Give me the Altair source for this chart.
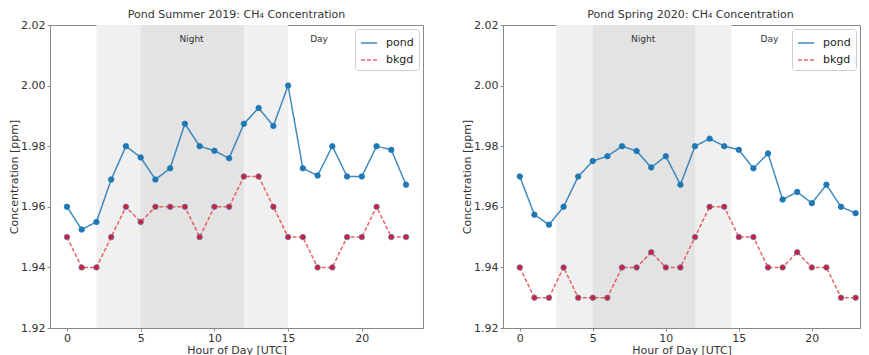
import altair as alt
import pandas as pd

hours = list(range(24))

summer_pond = [1.960, 1.9525, 1.955, 1.969, 1.980, 1.9763, 1.969, 1.9727, 1.9874, 1.980,
               1.9785, 1.976, 1.9874, 1.9926, 1.9867, 2.000, 1.9727, 1.9703, 1.980, 1.970,
               1.970, 1.980, 1.9788, 1.9673]
summer_bkgd = [1.95, 1.94, 1.94, 1.95, 1.96, 1.955, 1.96, 1.96, 1.96, 1.95, 1.96, 1.96,
               1.97, 1.97, 1.96, 1.95, 1.95, 1.94, 1.94, 1.95, 1.95, 1.96, 1.95, 1.95]

spring_pond = [1.970, 1.9574, 1.9541, 1.960, 1.970, 1.9751, 1.9767, 1.980, 1.9784, 1.973,
               1.9767, 1.9673, 1.980, 1.9825, 1.980, 1.9788, 1.9727, 1.9776, 1.9624, 1.9649,
               1.9612, 1.9673, 1.960, 1.9579]
spring_bkgd = [1.94, 1.93, 1.93, 1.94, 1.93, 1.93, 1.93, 1.94, 1.94, 1.945, 1.94, 1.94,
               1.95, 1.96, 1.96, 1.95, 1.95, 1.94, 1.94, 1.945, 1.94, 1.94, 1.93, 1.93]

series_names = ["pond", "bkgd"]
summer_light = [2, 15]
summer_dark = [5, 12]
spring_light = [2.5, 14.5]
spring_dark = [5, 12]

label_text = ["Night", "Day"]
label_hour = [8.45, 17.1]
label_level = [2.0155, 2.0155]

y_ticks = [1.92, 1.94, 1.96, 1.98, 2.00, 2.02]
x_ticks = [0, 5, 10, 15, 20]

FONT = "DejaVu Sans"
BLUE = "#1f77b4"
PLOT_H = 303


def panel(title, pond, bkgd, light, dark, width, xmax, title_dx):
    df = pd.DataFrame({
        "hour": hours * 2,
        "value": pond + bkgd,
        "series": ["pond"] * len(hours) + ["bkgd"] * len(hours),
    })
    light_df = pd.DataFrame({"start": [light[0]], "end": [light[1]]})
    dark_df = pd.DataFrame({"start": [dark[0]], "end": [dark[1]]})
    labels = pd.DataFrame({"text": label_text, "hour": label_hour, "y": label_level})

    xscale = alt.Scale(domain=[-1.15, xmax], nice=False, zero=False)
    yscale = alt.Scale(domain=[1.92, 2.02], nice=False, zero=False)

    xaxis = alt.Axis(values=x_ticks, title="Hour of Day [UTC]", grid=False,
                     labelFont=FONT, titleFont=FONT, labelFontSize=11, titleFontSize=11,
                     labelColor="#333", titleColor="#333", titleFontWeight="normal",
                     domainColor="#888", tickColor="#888", tickSize=3, labelPadding=1,
                     titlePadding=1)
    yaxis = alt.Axis(values=y_ticks, format=".2f", title="Concentration [ppm]", grid=False,
                     labelFont=FONT, titleFont=FONT, labelFontSize=11, titleFontSize=11,
                     labelColor="#333", titleColor="#333", titleFontWeight="normal",
                     domainColor="#888", tickColor="#888", tickSize=3, labelPadding=2,
                     titlePadding=1)

    def band(d, col):
        return alt.Chart(d).mark_rect(color=col).encode(
            x=alt.X("start:Q", scale=xscale, axis=xaxis),
            x2="end:Q",
            y=alt.value(0),
            y2=alt.value(PLOT_H),
        )

    texts = alt.Chart(labels).mark_text(font=FONT, fontSize=9, color="#333",
                                        baseline="middle").encode(
        x=alt.X("hour:Q", scale=xscale),
        y=alt.Y("y:Q", scale=yscale, axis=yaxis),
        text="text:N",
    )

    color = alt.Color("series:N",
                      scale=alt.Scale(domain=series_names, range=[BLUE, "#e34a4c"]),
                      legend=alt.Legend(title=None, orient="top-right", offset=4,
                                        fillColor="white", strokeColor="#cccccc",
                                        cornerRadius=3, padding=5,
                                        labelFont=FONT, labelFontSize=11,
                                        labelColor="#222", symbolType="stroke",
                                        symbolSize=260, symbolStrokeWidth=1.5,
                                        rowPadding=3, labelOffset=8))
    dash = alt.StrokeDash("series:N",
                          scale=alt.Scale(domain=series_names, range=[[1, 0], [4, 2]]),
                          legend=None)

    lines = alt.Chart(df).mark_line(strokeWidth=1.5, opacity=0.85).encode(
        x=alt.X("hour:Q", scale=xscale),
        y=alt.Y("value:Q", scale=yscale),
        color=color,
        strokeDash=dash,
    )

    points = alt.Chart(df).mark_point(filled=True, size=30, opacity=1, strokeWidth=0.8).encode(
        x=alt.X("hour:Q", scale=xscale),
        y=alt.Y("value:Q", scale=yscale),
        fill=alt.Fill("series:N", scale=alt.Scale(domain=series_names,
                                                   range=[BLUE, "#cc2233"]), legend=None),
        stroke=alt.Stroke("series:N", scale=alt.Scale(domain=series_names,
                                                       range=[BLUE, "#6a74b8"]), legend=None),
    )

    return alt.layer(band(light_df, "#f0f0f0"), band(dark_df, "#e3e3e3"),
                     texts, lines, points).properties(
        width=width, height=PLOT_H,
        title=alt.TitleParams(title, font=FONT, fontSize=11, fontWeight="normal",
                              color="#333", offset=-1, dx=title_dx),
    )


left = panel("Pond Summer 2019: CH\u2084 Concentration", summer_pond, summer_bkgd,
             summer_light, summer_dark, 373, 24.15, 0)
right = panel("Pond Spring 2020: CH\u2084 Concentration", spring_pond, spring_bkgd,
              spring_light, spring_dark, 357, 23.3, 9)

chart = alt.hconcat(left, right, spacing=37).resolve_scale(
    color="independent", strokeDash="independent", fill="independent", stroke="independent"
).resolve_legend(color="independent").configure_view(
    stroke="#888", strokeWidth=1
).properties(padding={"left": 0, "top": 0, "right": 0, "bottom": 0})

chart.save("out.html", embed_options={"renderer": "svg", "actions": False})
